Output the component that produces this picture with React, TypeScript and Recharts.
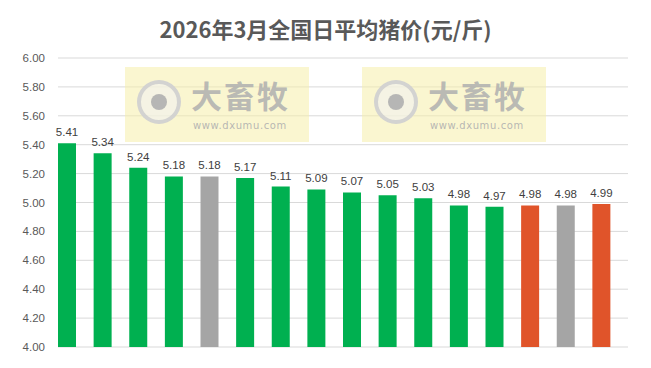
import { BarChart, Bar, XAxis, YAxis, CartesianGrid, Cell, LabelList } from 'recharts';

const days = ['3/1', '3/2', '3/3', '3/4', '3/5', '3/6', '3/7', '3/8', '3/9', '3/10', '3/11', '3/12', '3/13', '3/14', '3/15', '3/16'];
const prices = [5.41, 5.34, 5.24, 5.18, 5.18, 5.17, 5.11, 5.09, 5.07, 5.05, 5.03, 4.98, 4.97, 4.98, 4.98, 4.99];
const barColors = ['#00B050', '#00B050', '#00B050', '#00B050', '#A5A5A5', '#00B050', '#00B050', '#00B050', '#00B050', '#00B050', '#00B050', '#00B050', '#00B050', '#E0542A', '#A5A5A5', '#E0542A'];
const yTicks = [4.0, 4.2, 4.4, 4.6, 4.8, 5.0, 5.2, 5.4, 5.6, 5.8, 6.0];

const data = days.map((d, i) => ({ day: d, price: prices[i], empty: null }));

const Watermark = ({ left }: { left: number }) => (
  <div
    style={{
      position: 'absolute',
      left,
      top: 67,
      width: 184,
      height: 75,
      background: 'rgba(245, 238, 170, 0.55)',
      pointerEvents: 'none',
    }}
  >
    <div
      style={{
        position: 'absolute',
        left: 12,
        top: 13,
        width: 44,
        height: 44,
        borderRadius: '50%',
        border: '4px solid rgba(205,205,205,0.85)',
        boxSizing: 'border-box',
        background: 'rgba(242,242,242,0.6)',
      }}
    >
      <div
        style={{
          position: 'absolute',
          left: 10,
          top: 10,
          width: 16,
          height: 16,
          borderRadius: '50%',
          background: 'rgba(175,175,175,0.9)',
        }}
      />
    </div>
    <div
      style={{
        position: 'absolute',
        left: 66,
        top: 12,
        fontFamily: '"Noto Sans CJK SC"',
        fontWeight: 700,
        fontSize: 31,
        lineHeight: '31px',
        color: 'rgba(175,175,175,0.85)',
        letterSpacing: 2,
      }}
    >
      大畜牧
    </div>
    <div
      style={{
        position: 'absolute',
        left: 68,
        top: 53,
        fontFamily: '"DejaVu Sans"',
        fontSize: 10,
        lineHeight: '11px',
        color: 'rgba(175,175,175,0.9)',
        letterSpacing: 0.6,
      }}
    >
      www.dxumu.com
    </div>
  </div>
);

export default function App() {
  return (
    <div style={{ position: 'absolute', left: 0, top: 0, width: 651, height: 368, background: '#fff' }}>
      <div
        style={{
          position: 'absolute',
          left: 0,
          top: 12,
          width: 651,
          textAlign: 'center',
          fontFamily: '"Noto Sans CJK SC"',
          fontWeight: 700,
          fontSize: 22,
          color: '#595959',
        }}
      >
        2026年3月全国日平均猪价(元/斤)
      </div>
      <BarChart
        width={651}
        height={368}
        data={data}
        margin={{ top: 58, right: 23, bottom: 21, left: 0 }}
        barCategoryGap={0}
        barGap={0}
      >
        <CartesianGrid vertical={false} stroke="#D9D9D9" />
        <XAxis dataKey="day" hide />
        <YAxis
          width={58}
          domain={[4, 6]}
          ticks={yTicks}
          tickFormatter={(v: number) => v.toFixed(2)}
          axisLine={false}
          tickLine={false}
          tick={{ fontSize: 11.5, fill: '#595959', fontFamily: '"Liberation Sans"', dx: -5 }}
          interval={0}
        />
        <Bar dataKey="price" isAnimationActive={false}>
          {data.map((_, i) => (
            <Cell key={i} fill={barColors[i]} />
          ))}
          <LabelList
            dataKey="price"
            position="top"
            offset={7}
            formatter={(v: number) => v.toFixed(2)}
            style={{ fontSize: 11.5, fill: '#404040', fontFamily: '"Liberation Sans"' }}
          />
        </Bar>
        <Bar dataKey="empty" isAnimationActive={false} fill="none" />
      </BarChart>
      <Watermark left={125} />
      <Watermark left={362} />
    </div>
  );
}
